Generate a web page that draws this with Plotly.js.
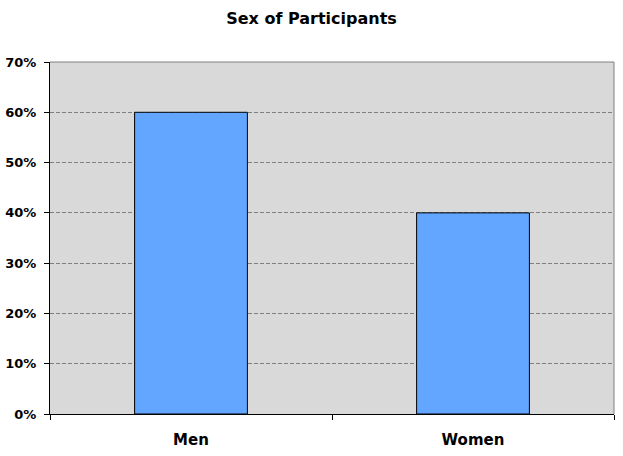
<!DOCTYPE html>
<html>
<head>
<meta charset="utf-8">
<script src="https://cdn.plot.ly/plotly-3.0.1.min.js"></script>
<style>html,body{margin:0;padding:0;background:#fff;}#chart{width:623px;height:456px;}</style>
</head>
<body>
<div id="chart"></div>
<script>
const categories = ["Men", "Women"];
const shares = [0.60, 0.40];
const yTickVals = [0, 0.1, 0.2, 0.3, 0.4, 0.5, 0.6, 0.7];
const yTickText = ["0%", "10%", "20%", "30%", "40%", "50%", "60%", "70%"];
const chartTitle = "Sex of Participants";

const fontFam = "Verdana, 'DejaVu Sans', sans-serif";

Plotly.newPlot("chart", [{
  type: "bar",
  x: categories,
  y: shares,
  width: 0.4,
  marker: {color: "#63a6ff", line: {color: "#000000", width: 1}},
  hoverinfo: "none"
}], {
  width: 623, height: 456,
  margin: {l: 50, r: 9, t: 62, b: 42},
  paper_bgcolor: "#ffffff",
  plot_bgcolor: "#d9d9d9",
  showlegend: false,
  title: {text: "<b>" + chartTitle + "</b>", x: 0.5, xanchor: "center", y: 0.96, yanchor: "middle",
          font: {family: fontFam, size: 16, color: "#000"}},
  xaxis: {
    type: "category",
    tickson: "boundaries",
    ticks: "outside", ticklen: 5, tickcolor: "#000", tickwidth: 1,
    showline: true, linecolor: "#000", linewidth: 1,
    showgrid: false, zeroline: false,
    tickfont: {family: fontFam, size: 15, color: "#000", weight: "bold"},
    ticklabelstandoff: 12
  },
  yaxis: {
    range: [0, 0.7],
    tickmode: "array", tickvals: yTickVals, ticktext: yTickText,
    ticks: "outside", ticklen: 5, tickcolor: "#000", tickwidth: 1,
    showline: true, linecolor: "#000", linewidth: 1,
    showgrid: true, gridcolor: "#808080", griddash: "4px,2px", gridwidth: 1,
    zeroline: false,
    tickfont: {family: fontFam, size: 13, color: "#000", weight: "bold"},
    ticklabelstandoff: 5
  },
  shapes: [
    {type: "line", xref: "paper", yref: "paper", x0: 0, x1: 1, y0: 1, y1: 1, line: {color: "#808080", width: 1}},
    {type: "line", xref: "paper", yref: "paper", x0: 1, x1: 1, y0: 0, y1: 1, line: {color: "#808080", width: 1}}
  ]
}, {displayModeBar: false, staticPlot: true});
</script>
</body>
</html>
